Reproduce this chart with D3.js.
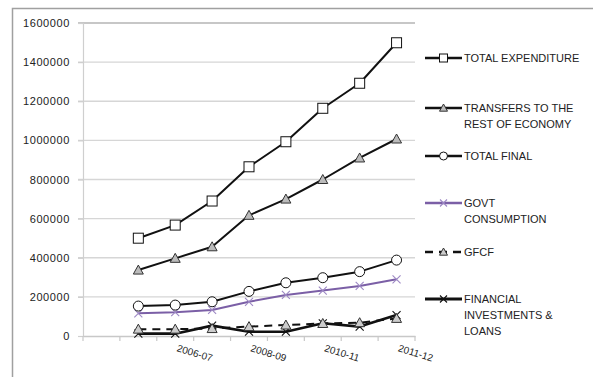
<!DOCTYPE html>
<html>
<head>
<meta charset="utf-8">
<script src="https://cdn.jsdelivr.net/npm/d3@7"></script>
<style>
  html, body { margin: 0; padding: 0; background: #fff; }
  svg { display: block; }
  text { font-family: "Liberation Sans", "DejaVu Sans", sans-serif; fill: #222; }
</style>
</head>
<body>
<svg id="chart" width="593" height="377"></svg>
<script>
// Category slots along the x axis (the first slot holds no data)
const categories = [0, 1, 2, 3, 4, 5, 6, 7, 8];
const tickLabels = ["", "", "2006-07", "", "2008-09", "", "2010-11", "", "2011-12"];
const yTicks = [0, 200000, 400000, 600000, 800000, 1000000, 1200000, 1400000, 1600000];

// Series values for slots 1..8
const totalExpenditure = [500000, 567000, 690000, 865000, 993000, 1164000, 1292000, 1499000];
const transfers        = [337000, 397000, 456000, 617000, 700000, 800000, 910000, 1007000];
const totalFinal       = [153000, 158000, 175000, 228000, 272000, 298000, 329000, 388000];
const govtConsumption  = [116000, 122000, 133000, 175000, 210000, 232000, 256000, 290000];
const gfcf             = [35000, 35000, 38000, 48000, 56000, 64000, 68000, 90000];
const financialLoans   = [12000, 12000, 53000, 22000, 22000, 65000, 48000, 107000];

const seriesNames = [
  ["TOTAL EXPENDITURE"],
  ["TRANSFERS TO THE", "REST OF ECONOMY"],
  ["TOTAL FINAL"],
  ["GOVT", "CONSUMPTION"],
  ["GFCF"],
  ["FINANCIAL", "INVESTMENTS &", "LOANS"]
];

const series = [
  { name: seriesNames[0], values: totalExpenditure, color: "#111", width: 2, dash: null, marker: "square", mfill: "#fff", mstroke: "#111" },
  { name: seriesNames[1], values: transfers, color: "#111", width: 2, dash: null, marker: "triangle", mfill: "#bbb", mstroke: "#333" },
  { name: seriesNames[2], values: totalFinal, color: "#111", width: 2, dash: null, marker: "circle", mfill: "#fff", mstroke: "#111" },
  { name: seriesNames[3], values: govtConsumption, color: "#7b5fa6", width: 2, dash: null, marker: "x", mfill: "none", mstroke: "#9d88c4" },
  { name: seriesNames[4], values: gfcf, color: "#111", width: 2, dash: "8,6", marker: "triangle", mfill: "#ccc", mstroke: "#333" },
  { name: seriesNames[5], values: financialLoans, color: "#111", width: 2.6, dash: null, marker: "x", mfill: "none", mstroke: "#111" }
];

const svg = d3.select("#chart");
const plot = { left: 83, right: 415, top: 23, bottom: 336 };

// Outer chart frame
svg.append("rect")
  .attr("x", 12.5).attr("y", 8.5)
  .attr("width", 620).attr("height", 420)
  .attr("fill", "none").attr("stroke", "#a0a0a0").attr("stroke-width", 1.5);

const x = d3.scaleBand().domain(categories).range([plot.left, plot.right]).padding(0);
const y = d3.scaleLinear().domain([0, 1600000]).range([plot.bottom, plot.top]);
const cx = i => x(i) + x.bandwidth() / 2;

// Horizontal gridlines
svg.append("g").selectAll("line").data(yTicks.slice(1)).join("line")
  .attr("x1", plot.left - 5).attr("x2", plot.right)
  .attr("y1", d => y(d)).attr("y2", d => y(d))
  .attr("stroke", (d) => d === 1600000 ? "#b4b4b4" : "#d6d6d6")
  .attr("stroke-width", 1.4);

// Y axis
const yAxis = svg.append("g").attr("transform", `translate(${plot.left},0)`)
  .call(d3.axisLeft(y).tickValues(yTicks).tickFormat(d3.format("d")).tickSize(5).tickPadding(8));
yAxis.select(".domain").attr("stroke", "#cfcfcf").attr("stroke-width", 1.2);
yAxis.selectAll(".tick line").attr("stroke", "#cfcfcf").attr("stroke-width", 1.2);
yAxis.selectAll("text").style("font-size", "11px").style("letter-spacing", "0.6px")
  .attr("fill", "#222").style("font-family", "Liberation Sans, sans-serif");

// X axis
const xAxis = svg.append("g").attr("transform", `translate(0,${plot.bottom})`)
  .call(d3.axisBottom(x).tickValues([]).tickSizeOuter(0));
xAxis.select(".domain").attr("stroke", "#c8c8c8").attr("stroke-width", 1.4);
svg.append("g").selectAll("line").data(d3.range(categories.length + 1)).join("line")
  .attr("x1", i => plot.left + i * x.step()).attr("x2", i => plot.left + i * x.step())
  .attr("y1", plot.bottom).attr("y2", plot.bottom + 5)
  .attr("stroke", "#c8c8c8").attr("stroke-width", 1.2);

svg.append("g").selectAll("text").data(categories.filter(i => tickLabels[i])).join("text")
  .attr("transform", i => `translate(${cx(i) + 1},${plot.bottom + 15}) rotate(17)`)
  .attr("text-anchor", "start")
  .style("font-size", "10px")
  .attr("fill", "#222")
  .text(i => tickLabels[i]);

// Marker shapes
function drawMarker(g, s, px, py, size) {
  const h = size / 2;
  if (s.marker === "square") {
    g.append("rect").attr("x", px - h).attr("y", py - h).attr("width", size).attr("height", size)
      .attr("fill", s.mfill).attr("stroke", s.mstroke).attr("stroke-width", 1);
  } else if (s.marker === "circle") {
    g.append("circle").attr("cx", px).attr("cy", py).attr("r", h)
      .attr("fill", s.mfill).attr("stroke", s.mstroke).attr("stroke-width", 1);
  } else if (s.marker === "triangle") {
    g.append("path").attr("d", `M${px},${py - h}L${px + h},${py + h * 0.8}L${px - h},${py + h * 0.8}Z`)
      .attr("fill", s.mfill).attr("stroke", s.mstroke).attr("stroke-width", 1);
  } else if (s.marker === "x") {
    g.append("path").attr("d", `M${px - h},${py - h}L${px + h},${py + h}M${px - h},${py + h}L${px + h},${py - h}`)
      .attr("fill", "none").attr("stroke", s.mstroke).attr("stroke-width", 1.1);
  }
}

const line = d3.line().x((d, i) => cx(i + 1)).y(d => y(d));

// Draw from the bottom series up so upper lines sit on top
const layer = svg.append("g");
[...series].reverse().forEach(s => {
  const g = layer.append("g");
  g.append("path").datum(s.values).attr("d", line)
    .attr("fill", "none").attr("stroke", s.color).attr("stroke-width", s.width)
    .attr("stroke-dasharray", s.dash).attr("stroke-linejoin", "round");
  s.values.forEach((v, i) => drawMarker(g, s, cx(i + 1), y(v), s.marker === "x" ? 8 : 10));
});

// Legend
const legendTops = [58, 108, 156, 203, 252, 299];
const legend = svg.append("g");
series.forEach((s, k) => {
  const ly = legendTops[k];
  const g = legend.append("g");
  g.append("line").attr("x1", 425).attr("x2", 462).attr("y1", ly).attr("y2", ly)
    .attr("stroke", s.color).attr("stroke-width", s.width + 0.5).attr("stroke-dasharray", s.dash);
  drawMarker(g, s, 443.5, ly, s.marker === "x" ? 7 : 8);
  s.name.forEach((t, j) => {
    g.append("text").attr("x", 464).attr("y", ly + 4 + j * 16)
      .style("font-size", "11px").attr("fill", "#1a1a1a").text(t);
  });
});
</script>
</body>
</html>
